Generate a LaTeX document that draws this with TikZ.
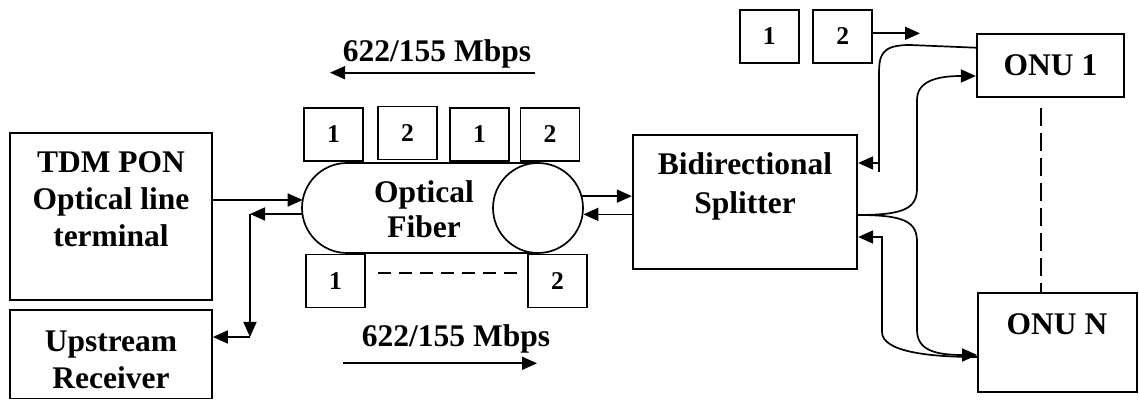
\documentclass[tikz,border=0pt]{standalone}
\usepackage{fontspec}
\setmainfont{Liberation Serif}
\usetikzlibrary{arrows.meta}
\begin{document}
\begin{tikzpicture}[x=0.5pt,y=-0.5pt, line width=0.85pt,
  >={Triangle[length=7.5pt,width=6.5pt]},
  box/.style={draw, rectangle, inner sep=0pt},
  num/.style={box, minimum width=29.5pt, minimum height=26.5pt, font=\fontsize{12.8pt}{15pt}\selectfont\bfseries},
  txt/.style={inner sep=0pt, align=center, font=\fontsize{15.75pt}{18.5pt}\selectfont\bfseries},
  dashA/.style={dash pattern=on 6.5pt off 4pt},
  dashB/.style={dash pattern=on 9pt off 3.5pt}
]
\useasboundingbox (0,0) rectangle (1139,400);

% left boxes
\node[box, minimum width=101pt, minimum height=83.5pt] (olt) at (111,216.5) {};
\node[txt, anchor=base] (oltT) at (111,247) {TDM PON\\Optical line\\terminal};
\node[box, minimum width=101pt, minimum height=44.25pt] (upr) at (111,354.25) {};
\node[txt, anchor=base] (uprT) at (111,388) {Upstream\\Receiver};

% fiber
\coordinate (fTL) at (347,163);
\coordinate (fTR) at (538,163);
\coordinate (fBR) at (538,253);
\draw (fTR) -- (fTL) arc[start angle=270, end angle=90, radius=45] -- (fBR);
\node[draw, circle, minimum size=45pt, inner sep=0pt] (ring) at (538,208) {};
\node[txt, anchor=base, font=\fontsize{15.75pt}{17.5pt}\selectfont\bfseries] (fibT) at (424,238) {Optical\\Fiber};

% packets on fiber
\node[num] (p1) at (333.5,134.5) {1};
\node[num] (p2) at (407.5,133) {2};
\node[num] (p3) at (479.5,134.5) {1};
\node[num] (p4) at (550,134.5) {2};
\node[num] (q1) at (335.5,281) {1};
\node[num] (q2) at (557.5,281) {2};
\coordinate (qd1) at (378,272.7);
\coordinate (qd2) at (522,272.7);
\draw[dashA] (qd1) -- (qd2);

% rates
\node[txt, anchor=base] (rtop) at (437,61.7) {622/155 Mbps};
\coordinate (rtA) at (535,72.7);
\coordinate (rtB) at (330,72.7);
\draw[->] (rtA) -- (rtB);
\node[txt, anchor=base] (rbot) at (456,346.7) {622/155 Mbps};
\coordinate (rbA) at (343,363.3);
\coordinate (rbB) at (537,363.3);
\draw[->] (rbA) -- (rbB);

% splitter
\node[box, minimum width=112.3pt, minimum height=67pt] (spl) at (745,202) {};
\node[txt, anchor=base, font=\fontsize{15.75pt}{19.5pt}\selectfont\bfseries] (splT) at (745,214) {Bidirectional\\Splitter};

% ONUs
\node[box, minimum width=73.8pt, minimum height=31.2pt, font=\fontsize{15.75pt}{18.5pt}\selectfont\bfseries] (onu1) at (1050.5,65.5) {ONU 1};
\node[box, minimum width=79.5pt, minimum height=49.5pt] (onun) at (1057.5,342.5) {};
\node[txt, anchor=base] (onunT) at (1057,335) {ONU N};
\coordinate (dtop) at (1040.7,108);
\draw[dashB] (dtop) -- (dtop |- onun.north);

% packets near ONU 1
\node[num] (r1) at (769.3,36.2) {1};
\node[num] (r2) at (842.8,36.2) {2};
\coordinate (r2end) at (920,33.3);
\draw[->] (r2.east |- r2end) -- (r2end);

% OLT connections
\coordinate (fa) at (302.7,200);
\draw[->] (olt.east |- fa) -- (fa);
\coordinate (fb) at (302.4,214);
\coordinate (j1) at (250,214);
\coordinate (j2) at (250,337);
\draw[->] (fb) -- (j1);
\draw[->] (j1) -- (j2);
\draw[->] (j2) -- (j2 -| upr.east);

% fiber - splitter
\draw[->] (ring.15) -- (ring.15 -| spl.west);
\draw[->] (spl.west |- ring.-8) -- (ring.-8);

% splitter - ONUs
\draw (879,163) -- (879,172);
\draw[->] (onu1.west |- 0,47.7) -- (910,45) .. controls (881,45) and (879,55) .. (879,75) -- (879,163) -- (spl.east |- 0,163);
\draw[->] (spl.east |- 0,215) .. controls (905,215) and (917,208) .. (917,188) -- (917,100) .. controls (917,82) and (935,76) .. (onu1.west |- 0,76);
\draw[->] (spl.east |- 0,215) .. controls (905,215) and (917,222) .. (917,242) -- (917,330) .. controls (917,350) and (935,355) .. (onun.west |- 0,355);
\draw[->] (onun.west |- 0,357) .. controls (930,357) and (882,352) .. (882,332) -- (882,237) -- (spl.east |- 0,237);
\end{tikzpicture}
\end{document}
